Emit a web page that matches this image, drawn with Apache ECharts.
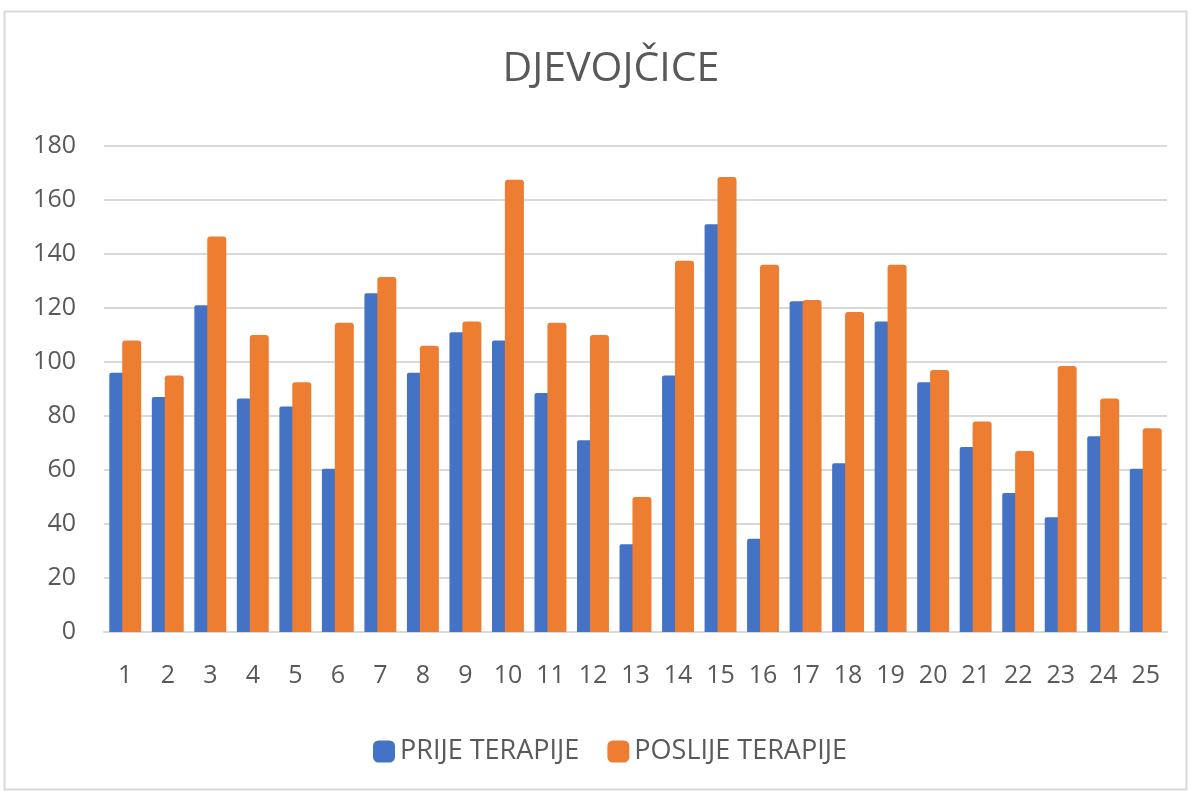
<!DOCTYPE html>
<html><head><meta charset="utf-8">
<script src="https://cdn.jsdelivr.net/npm/echarts@6/dist/echarts.min.js"></script>
<style>html,body{margin:0;padding:0;background:#fff;}#c{width:1192px;height:795px;}</style>
</head><body><div id="c"></div>
<script>
var categories = ['1','2','3','4','5','6','7','8','9','10','11','12','13','14','15','16','17','18','19','20','21','22','23','24','25'];
var prije = [96, 87, 121, 86.5, 83.5, 60.5, 125.5, 96, 111, 108, 88.5, 71, 32.5, 95, 151, 34.5, 122.5, 62.5, 115, 92.5, 68.5, 51.5, 42.5, 72.5, 60.5];
var poslije = [108, 95, 146.5, 110, 92.5, 114.5, 131.5, 106, 115, 167.5, 114.5, 110, 50, 137.5, 168.5, 136, 123, 118.5, 136, 97, 78, 67, 98.5, 86.5, 75.5];
var yTicks = [0, 20, 40, 60, 80, 100, 120, 140, 160, 180];
var seriesNames = ['PRIJE TERAPIJE', 'POSLIJE TERAPIJE'];
var FONT = "'Open Sans', sans-serif";
var chart = echarts.init(document.getElementById('c'));
chart.setOption({
  animation: false,
  backgroundColor: '#fff',
  color: ['#4472c4', '#ed7d31'],
  title: {
    text: 'DJEVOJČICE', left: 606, textAlign: 'center', top: 44,
    textStyle: { fontFamily: FONT, fontSize: 41, fontWeight: 'normal', color: '#595959' }
  },
  graphic: [{
    type: 'rect', shape: { x: 4.5, y: 11.5, width: 1182, height: 778 },
    style: { fill: 'none', stroke: '#d9d9d9', lineWidth: 2 }, silent: true
  }],
  legend: {
    data: seriesNames, top: 733, left: 368, itemGap: 28,
    itemWidth: 22, itemHeight: 22, icon: 'roundRect',
    textStyle: { fontFamily: FONT, fontSize: 27, color: '#595959' }
  },
  grid: { left: 104, right: 25, top: 146, bottom: 163, containLabel: false },
  xAxis: {
    type: 'category', data: categories,
    axisLine: { lineStyle: { color: '#d9d9d9', width: 2 } },
    axisTick: { show: false },
    axisLabel: { fontFamily: FONT, fontSize: 25, color: '#595959', margin: 31 }
  },
  yAxis: {
    type: 'value', min: yTicks[0], max: yTicks[yTicks.length - 1], interval: 20,
    axisLine: { show: false }, axisTick: { show: false },
    splitLine: { lineStyle: { color: '#d9d9d9', width: 2 } },
    axisLabel: { fontFamily: FONT, fontSize: 25, color: '#595959', margin: 28 }
  },
  series: [
    { name: seriesNames[0], type: 'bar', data: prije, barWidth: 19, barGap: '-32%',
      itemStyle: { borderRadius: [2, 2, 0, 0] } },
    { name: seriesNames[1], type: 'bar', data: poslije, barWidth: 19, barGap: '-32%',
      itemStyle: { borderRadius: [3, 3, 0, 0] } }
  ]
});
</script></body></html>
